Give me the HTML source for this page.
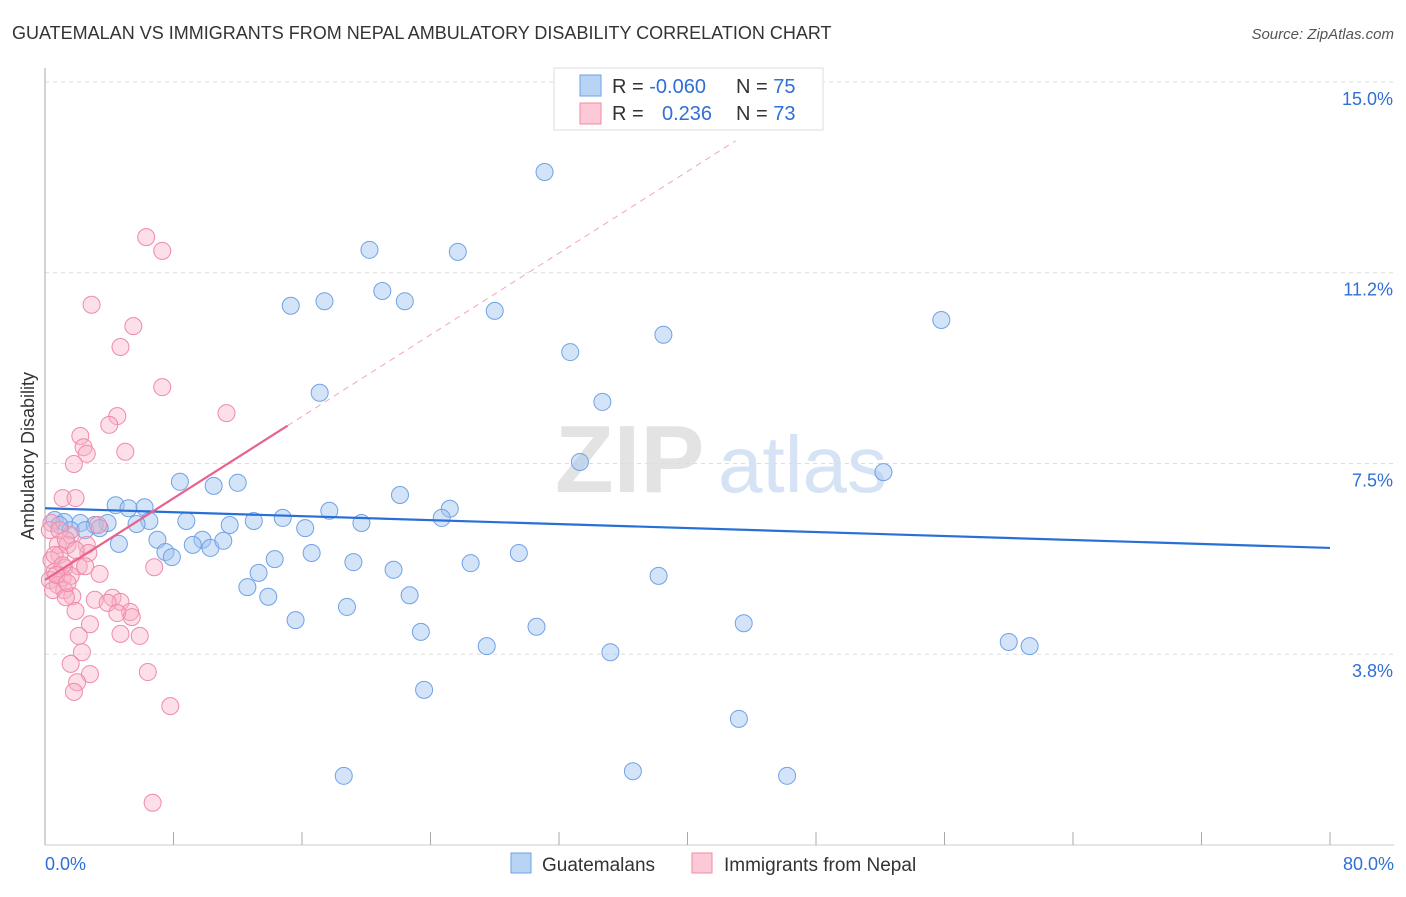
<!DOCTYPE html>
<html><head><meta charset="utf-8"><style>
body{margin:0;background:#fff;font-family:"Liberation Sans",sans-serif;}
svg text{font-family:"Liberation Sans",sans-serif;}
</style></head><body>
<svg id="chart" width="1406" height="892" xmlns="http://www.w3.org/2000/svg">
<text x="12" y="39" font-size="18" fill="#333">GUATEMALAN VS IMMIGRANTS FROM NEPAL AMBULATORY DISABILITY CORRELATION CHART</text>
<text x="1394" y="39" font-size="15" fill="#555" text-anchor="end" font-style="italic">Source: ZipAtlas.com</text>
<text transform="translate(34,456) rotate(-90)" font-size="18" fill="#333" text-anchor="middle">Ambulatory Disability</text>
<g>
<text x="555" y="492" font-size="96" fill="#e3e3e3" font-family="Liberation Serif" font-weight="bold">ZIP</text>
<text x="718" y="492" font-size="80" fill="#d5e3f5">atlas</text>
</g>
<g id="grid"></g>
<g id="axes"></g>
<g id="series"></g>
<g id="lines"></g>
<g>
<rect x="554" y="68" width="269" height="62" fill="#fff" stroke="#ddd"/>
<rect x="580" y="75" width="21" height="21" fill="#b8d4f5" stroke="#6fa2e6"/>
<rect x="580" y="103" width="21" height="21" fill="#fcc9d7" stroke="#f08aa8"/>
<text x="612" y="93" font-size="20" fill="#333">R = <tspan fill="#2f6fd6">-0.060</tspan></text>
<text x="736" y="93" font-size="20" fill="#333">N = <tspan fill="#2f6fd6">75</tspan></text>
<text x="612" y="120" font-size="20" fill="#333">R = </text>
<text x="662" y="120" font-size="20" fill="#2f6fd6">0.236</text>
<text x="736" y="120" font-size="20" fill="#333">N = <tspan fill="#2f6fd6">73</tspan></text>
</g>
<g>
<rect x="511" y="853" width="20" height="20" fill="#b8d4f5" stroke="#6fa2e6"/>
<text x="542" y="871" font-size="19" fill="#333">Guatemalans</text>
<rect x="692" y="853" width="20" height="20" fill="#fcc9d7" stroke="#f08aa8"/>
<text x="724" y="871" font-size="19" fill="#333">Immigrants from Nepal</text>
</g>
</svg>
<script>
const xTicks=[0,8,16,24,32,40,48,56,64,72,80];
const yTickVals=[3.75,7.5,11.25,15];
const yTickLabels=["3.8%","7.5%","11.2%","15.0%"];
const blueX=[31.1,20.2,25.7,21.0,15.3,17.4,22.4,28.0,32.7,38.5,55.8,17.1,34.7,33.3,52.2,8.4,10.5,12.0,22.1,17.7,25.2,4.4,5.2,6.2,24.7,0.6,1.2,2.2,3.1,3.9,6.5,8.8,5.7,11.5,13.0,14.8,16.2,19.7,7.0,4.6,9.8,9.2,7.5,10.3,11.1,7.9,16.6,14.3,19.2,29.5,26.5,21.7,13.3,12.6,13.9,38.2,22.7,18.8,15.6,30.6,23.4,43.5,27.5,35.2,60.0,61.3,23.6,43.2,18.6,36.6,46.2,0.9,1.6,2.5,3.4];
const blueY=[13.23,11.70,11.66,10.89,10.60,10.69,10.69,10.50,9.69,10.03,10.32,8.89,8.71,7.53,7.33,7.14,7.06,7.12,6.88,6.57,6.61,6.68,6.62,6.64,6.43,6.39,6.35,6.33,6.29,6.33,6.37,6.37,6.31,6.29,6.37,6.43,6.23,6.33,6.00,5.92,6.00,5.90,5.76,5.84,5.98,5.66,5.74,5.62,5.56,5.74,5.54,5.41,5.35,5.07,4.88,5.29,4.91,4.68,4.42,4.29,4.19,4.36,3.91,3.79,3.99,3.91,3.05,2.48,1.36,1.45,1.36,6.29,6.19,6.19,6.23];
const pinkX=[6.3,7.3,2.9,5.5,4.7,7.3,11.3,4.5,4.0,2.2,2.4,2.6,5.0,1.8,1.1,1.9,0.4,0.3,3.3,1.6,0.8,1.4,2.6,0.9,2.7,0.4,1.2,2.1,2.5,0.6,1.1,1.6,0.3,0.8,1.2,0.5,1.7,1.3,3.4,6.8,3.1,4.2,4.7,3.9,5.3,4.5,1.9,5.4,2.8,2.1,4.7,5.9,2.3,1.6,6.4,2.8,2.0,1.8,7.8,6.7,0.6,1.1,0.9,1.3,1.9,0.7,1.4];
const pinkY=[11.95,11.68,10.62,10.20,9.79,9.00,8.49,8.43,8.26,8.04,7.82,7.69,7.73,7.49,6.82,6.82,6.33,6.19,6.29,6.09,5.90,5.90,5.90,5.70,5.74,5.60,5.45,5.48,5.48,5.37,5.25,5.29,5.21,5.11,5.01,5.01,4.89,4.87,5.33,5.46,4.82,4.86,4.78,4.76,4.58,4.56,4.60,4.48,4.34,4.11,4.15,4.11,3.79,3.56,3.40,3.36,3.20,3.01,2.73,0.83,5.70,5.50,6.19,6.00,5.80,5.31,5.15];
const blueFit=[6.62,5.84];
const pinkFit=[5.21,0.2008];
const pinkSolidEnd=15.1, pinkDashEnd=43;
const NS="http://www.w3.org/2000/svg";
const sx=v=>45+v*1285/80;
const sy=v=>845-v*50.87;
function mk(tag,attrs,parent){const e=document.createElementNS(NS,tag);for(const k in attrs)e.setAttribute(k,attrs[k]);parent.appendChild(e);return e;}
const grid=document.getElementById('grid'),axes=document.getElementById('axes'),series=document.getElementById('series'),lines=document.getElementById('lines');
yTickVals.forEach((v,i)=>{
 const l=mk('line',{x1:45,x2:1394,y1:sy(v),y2:sy(v),stroke:'#ddd','stroke-dasharray':'4,4'},grid);
 
 
 const t=mk('text',{x:1393,y:sy(v)+23,'font-size':18,fill:'#2f6fd6','text-anchor':'end'},axes);
 t.textContent=yTickLabels[i];
 
 
});
const ya=mk('line',{x1:45,x2:45,y1:68,y2:845,stroke:'#aaa'},axes);


const xa=mk('line',{x1:45,x2:1394,y1:845,y2:845,stroke:'#ccc'},axes);


xTicks.forEach(v=>{
 const t=mk('line',{x1:sx(v),x2:sx(v),y1:832,y2:845,stroke:'#aaa'},axes);
 
 
});
[[0,'0.0%','start',45],[80,'80.0%','end',1394]].forEach(a=>{
 const t=mk('text',{x:a[3],y:870,'font-size':18,fill:'#2f6fd6','text-anchor':a[2]},axes);
 t.textContent=a[1];
 
 
});
blueX.forEach((x,i)=>{
 const c=mk('circle',{cx:sx(x),cy:sy(blueY[i]),r:8.5,fill:'rgba(160,196,240,0.45)',stroke:'#6fa2e6','stroke-width':1},series);
 
 
});
pinkX.forEach((x,i)=>{
 const c=mk('circle',{cx:sx(x),cy:sy(pinkY[i]),r:8.5,fill:'rgba(248,175,198,0.4)',stroke:'#f08aa8','stroke-width':1},series);
 
 
});
const bl=mk('line',{x1:sx(0),y1:sy(blueFit[0]),x2:sx(80),y2:sy(blueFit[1]),stroke:'#2a6fd6','stroke-width':2.2},lines);


const pf=x=>pinkFit[0]+pinkFit[1]*x;
const pd=mk('line',{x1:sx(pinkSolidEnd),y1:sy(pf(pinkSolidEnd)),x2:sx(pinkDashEnd),y2:sy(pf(pinkDashEnd)),stroke:'#f2a5bb','stroke-width':1,'stroke-dasharray':'6,5'},lines);


const ps=mk('line',{x1:sx(0),y1:sy(pf(0)),x2:sx(pinkSolidEnd),y2:sy(pf(pinkSolidEnd)),stroke:'#e8628c','stroke-width':2.2},lines);


</script>
</body></html>
